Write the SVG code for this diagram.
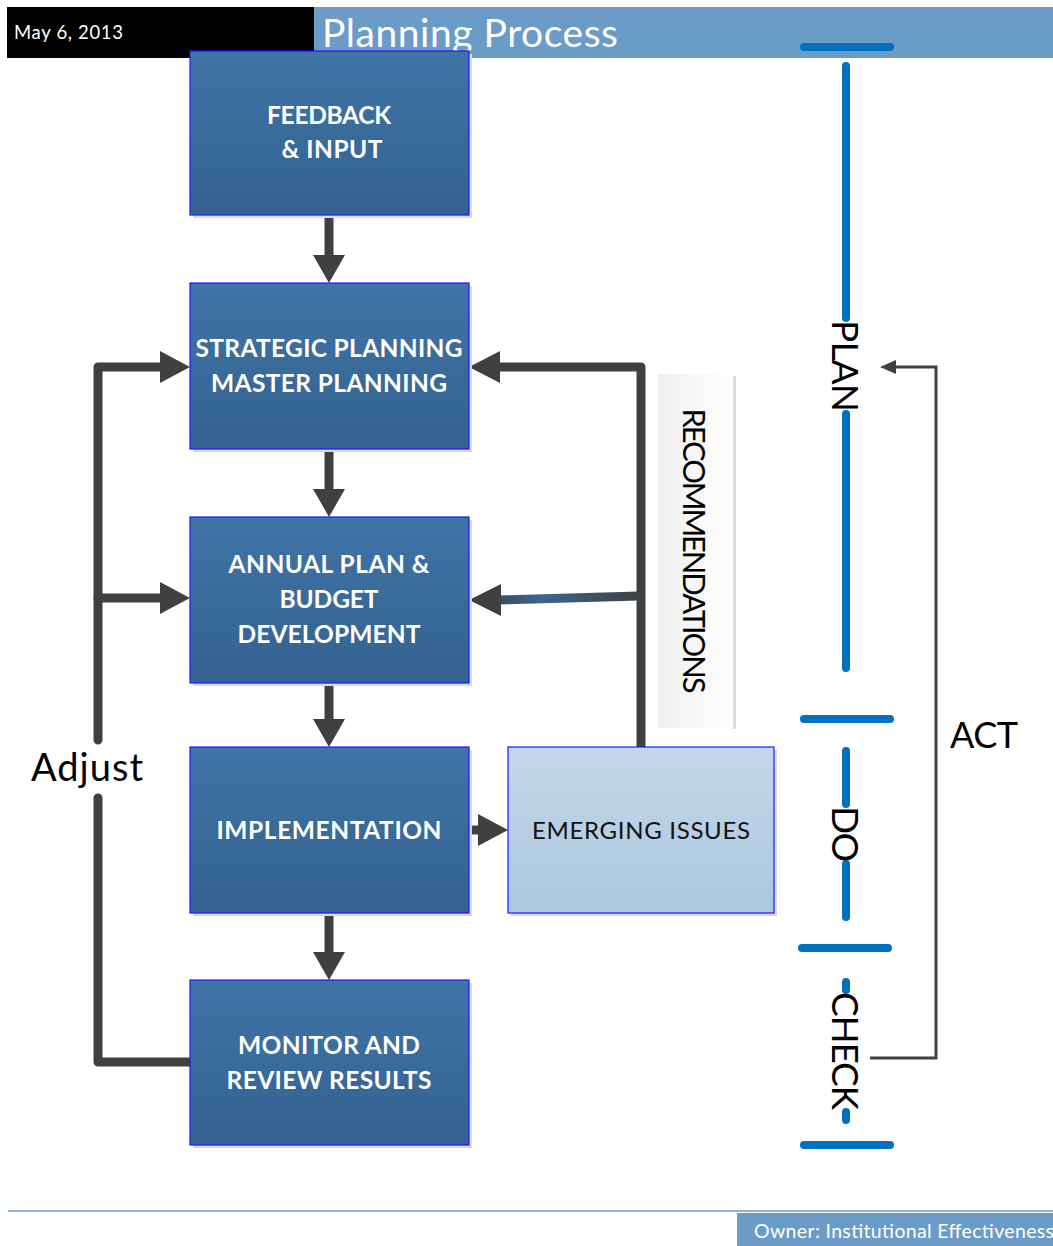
<svg xmlns="http://www.w3.org/2000/svg" width="1053" height="1246" viewBox="0 0 1053 1246">
<defs>
<linearGradient id="boxG" x1="0" y1="0" x2="0" y2="1"><stop offset="0" stop-color="#3f74a6"/><stop offset="1" stop-color="#34628f"/></linearGradient>
<linearGradient id="emG" x1="0" y1="0" x2="0" y2="1"><stop offset="0" stop-color="#c3d7e9"/><stop offset="1" stop-color="#abc8e1"/></linearGradient>
<linearGradient id="recG" x1="0" y1="0" x2="1" y2="0"><stop offset="0" stop-color="#efefef"/><stop offset="1" stop-color="#ffffff"/></linearGradient>
<linearGradient id="midG" gradientUnits="userSpaceOnUse" x1="475" y1="0" x2="641" y2="0"><stop offset="0" stop-color="#404040"/><stop offset="0.4" stop-color="#3a6690"/><stop offset="1" stop-color="#404040"/></linearGradient>
</defs>
<style>
.box{fill:url(#boxG);stroke:#1a1aff;stroke-width:1.2}
.shd{fill:#d9d9d9}
.bt{font-family:Lato,"Open Sans",sans-serif;font-weight:bold;font-size:24.5px;fill:#ffffff;text-anchor:middle}
.con{fill:none;stroke:#404040;stroke-width:9;stroke-linecap:round;stroke-linejoin:round}
.head{fill:#404040}
.bl{stroke:#0070c0;stroke-width:8;stroke-linecap:round;fill:none}
.vt{font-family:Lato,"Open Sans",sans-serif;font-size:37px;fill:#000;text-anchor:middle;dominant-baseline:central}
</style>
<!-- header -->
<rect x="7" y="7" width="307" height="51" fill="#000"/>
<text x="14" y="39" font-family="Lato,'Open Sans',sans-serif" font-size="18.5" fill="#fff" textLength="109">May 6, 2013</text>
<rect x="314" y="7" width="739" height="51" fill="#6b9bc7"/>
<text x="322" y="47" font-family="Lato,'Open Sans',sans-serif" font-size="39" fill="#fff" textLength="296">Planning Process</text>
<!-- footer -->
<line x1="8" y1="1211" x2="1053" y2="1211" stroke="#6b9bc7" stroke-width="1.5"/>
<rect x="737" y="1213" width="316" height="33" fill="#6b9bc7"/>
<text x="754" y="1238" font-family="Lato,'Open Sans',sans-serif" font-size="19.5" fill="#fff" textLength="300">Owner: Institutional Effectiveness</text>

<!-- connectors -->
<g id="connectors">
<line class="con" x1="329" y1="215" x2="329" y2="258"/>
<path class="head" d="M313,255 L345,255 L329,283 Z"/>
<line class="con" x1="329" y1="449" x2="329" y2="492"/>
<path class="head" d="M313,489 L345,489 L329,517 Z"/>
<line class="con" x1="329" y1="683" x2="329" y2="722"/>
<path class="head" d="M313,719 L345,719 L329,747 Z"/>
<line class="con" x1="329" y1="913" x2="329" y2="955"/>
<path class="head" d="M313,952 L345,952 L329,980 Z"/>
<line class="con" x1="468" y1="830" x2="481" y2="830"/>
<path class="head" d="M478,814 L478,846 L508,830 Z"/>
<!-- recommendations -->
<path class="con" d="M641,747 L641,367 L497,367"/>
<path class="head" d="M500,351 L500,383 L469,367 Z"/>
<path d="M639,596 L497,600" stroke="url(#midG)" stroke-width="9" fill="none"/>
<path class="head" d="M501,584 L501,616 L469,600 Z"/>
<!-- adjust -->
<path class="con" d="M98,740 L98,367 L162,367"/>
<path class="head" d="M160,351 L160,383 L190,367 Z"/>
<line class="con" x1="98" y1="598" x2="162" y2="598"/>
<path class="head" d="M160,582 L160,614 L190,598 Z"/>
<path class="con" d="M98,798 L98,1062 L190,1062" stroke-linecap="butt"/>
<!-- act -->
<path d="M870,1058 L936,1058 L936,367 L894,367" fill="none" stroke="#404040" stroke-width="3"/>
<path class="head" d="M896,360 L896,374 L880,367 Z"/>
</g>

<!-- nodes -->
<g id="feedback">
<rect class="shd" x="193" y="54" width="279" height="164"/>
<rect class="box" x="190" y="51" width="279" height="164"/>
<text class="bt" x="329" y="124" textLength="124">FEEDBACK</text>
<text class="bt" x="332" y="158" textLength="101">&amp; INPUT</text>
</g>
<g id="strategic">
<rect class="shd" x="193" y="286" width="279" height="166"/>
<rect class="box" x="190" y="283" width="279" height="166"/>
<text class="bt" x="329" y="357" textLength="267">STRATEGIC PLANNING</text>
<text class="bt" x="329" y="392" textLength="236">MASTER PLANNING</text>
</g>
<g id="annual">
<rect class="shd" x="193" y="520" width="279" height="166"/>
<rect class="box" x="190" y="517" width="279" height="166"/>
<text class="bt" x="329" y="573" textLength="201">ANNUAL PLAN &amp;</text>
<text class="bt" x="329" y="608" textLength="99">BUDGET</text>
<text class="bt" x="329" y="643" textLength="183">DEVELOPMENT</text>
</g>
<g id="implementation">
<rect class="shd" x="193" y="750" width="279" height="166"/>
<rect class="box" x="190" y="747" width="279" height="166"/>
<text class="bt" x="329" y="839" textLength="225">IMPLEMENTATION</text>
</g>
<g id="monitor">
<rect class="shd" x="193" y="983" width="279" height="165"/>
<rect class="box" x="190" y="980" width="279" height="165"/>
<text class="bt" x="329" y="1054" textLength="182">MONITOR AND</text>
<text class="bt" x="329" y="1089" textLength="205">REVIEW RESULTS</text>
</g>
<g id="emerging">
<rect class="shd" x="511" y="750" width="266" height="166"/>
<rect x="508" y="747" width="266" height="166" fill="url(#emG)" stroke="#1a1aff" stroke-width="1.2"/>
<text x="641" y="839" font-family="Lato,'Open Sans',sans-serif" font-size="24" fill="#111" text-anchor="middle" textLength="218">EMERGING ISSUES</text>
</g>
<g id="recommendations">
<rect x="733" y="376" width="3" height="353" fill="#dcdcdc"/>
<rect x="658" y="374" width="75" height="354" fill="url(#recG)"/>
<text transform="translate(695,551) rotate(90)" x="0" y="0" font-family="Lato,'Open Sans',sans-serif" font-size="31" fill="#000" text-anchor="middle" dominant-baseline="central" textLength="285">RECOMMENDATIONS</text>
</g>
<g id="adjust-label">
<text x="31" y="781" font-family="Lato,'Open Sans',sans-serif" font-size="38" fill="#000" textLength="112">Adjust</text>
</g>
<g id="act-label">
<text x="950" y="748" font-family="Lato,'Open Sans',sans-serif" font-size="36" fill="#000" textLength="68">ACT</text>
</g>
<!-- PDCA bars -->
<g id="plan">
<line class="bl" x1="804" y1="47" x2="890" y2="47"/>
<line class="bl" x1="846" y1="66" x2="846" y2="318"/>
<line class="bl" x1="846" y1="414" x2="846" y2="668"/>
<text class="vt" transform="translate(846,366) rotate(90)" textLength="92">PLAN</text>
</g>
<g id="do">
<line class="bl" x1="804" y1="719" x2="890" y2="719"/>
<line class="bl" x1="846" y1="751" x2="846" y2="804"/>
<line class="bl" x1="846" y1="864" x2="846" y2="917"/>
<text class="vt" transform="translate(846,834) rotate(90)" textLength="56">DO</text>
</g>
<g id="check">
<line class="bl" x1="802" y1="948" x2="888" y2="948"/>
<line class="bl" x1="846" y1="982" x2="846" y2="990"/>
<line class="bl" x1="846" y1="1112" x2="846" y2="1120"/>
<text class="vt" transform="translate(846,1051) rotate(90)" textLength="118">CHECK</text>
<line class="bl" x1="804" y1="1145" x2="890" y2="1145"/>
</g>
</svg>
